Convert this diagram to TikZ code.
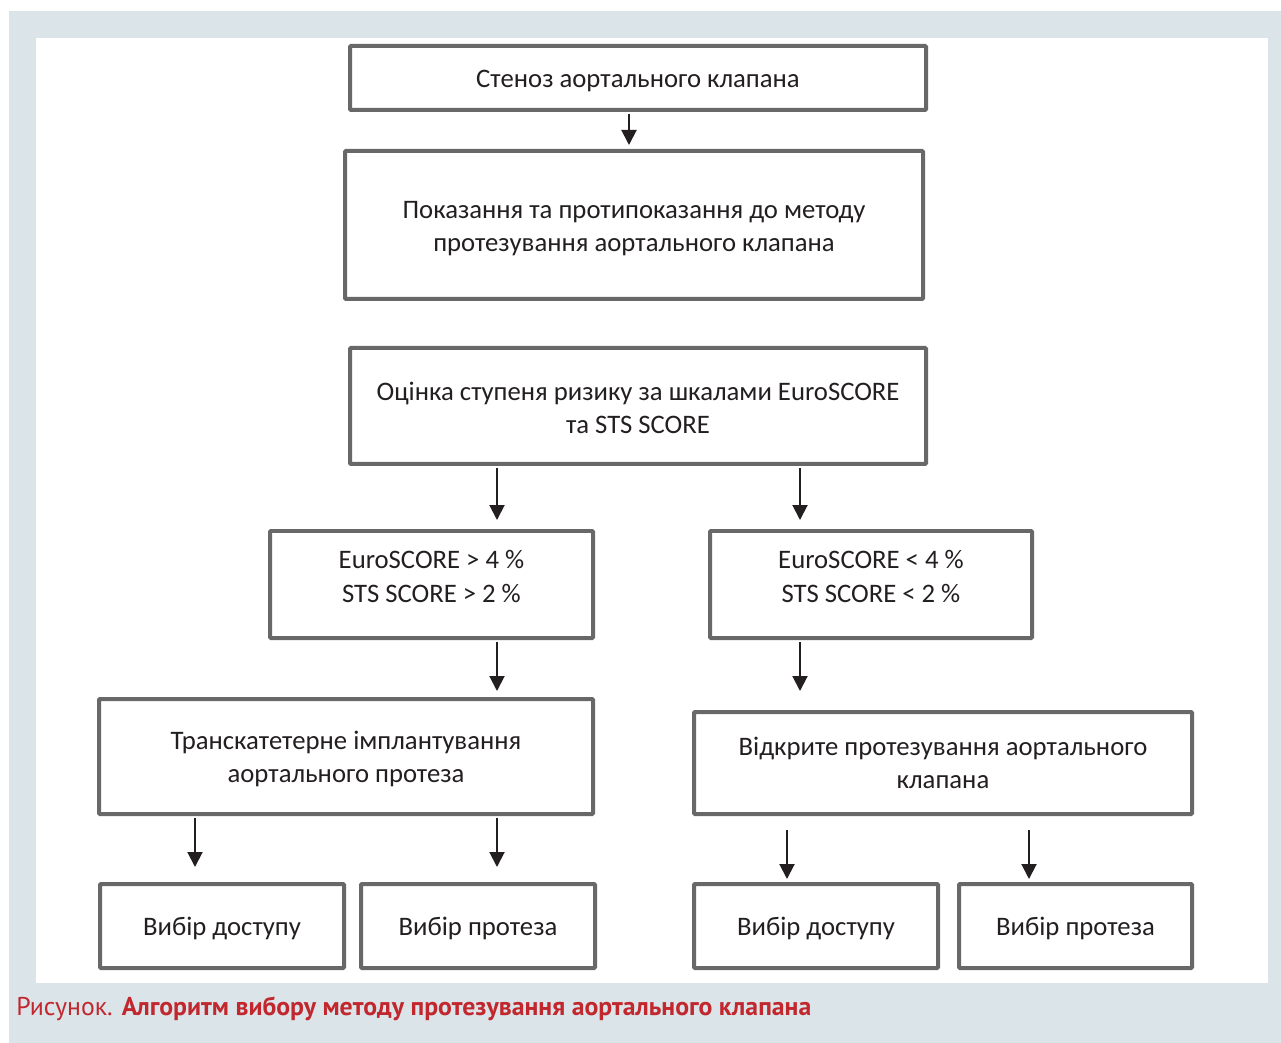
\documentclass[tikz,border=0pt]{standalone}
\usepackage{fontspec}
\setmainfont{Carlito}
\newfontfamily\capfont{PT Sans}
\usetikzlibrary{arrows.meta}
\definecolor{bandgray}{HTML}{DAE4E9}
\definecolor{framegray}{HTML}{686868}
\definecolor{inkblack}{HTML}{231F20}
\definecolor{capred}{HTML}{C1272D}
\tikzset{
  box/.style 2 args={draw=framegray, line width=0.08cm, rounded corners=0.6pt, fill=white,
    inner sep=0pt, minimum width=#1*0.02cm, minimum height=#2*0.02cm},
  boxtext/.style={text=inkblack, align=center, inner sep=0pt, font=\fontsize{15.2}{18.8}\selectfont},
  arr/.style={draw=inkblack, line width=0.04cm, shorten <=0.04cm,
    -{Triangle[width=0.3cm,length=0.3cm]}},
}
\begin{document}
\begin{tikzpicture}[x=0.02cm, y=-0.02cm]
% backdrop and panel
\useasboundingbox (0,0) rectangle (1281,1043);
\fill[bandgray] (9,11) rectangle (1281,1043);
\fill[white] (36,38) rectangle (1268,983);

% frames
\node[box={576}{64}] (stenosis) at (638,78) {};
\node[box={578}{148}] (indic) at (634,225) {};
\node[box={576}{116}] (assess) at (638,406) {};
\node[box={323}{107}] (hi) at (431.5,584.5) {};
\node[box={322}{107}] (lo) at (871,584.5) {};
\node[box={494}{115}] (tavi) at (346,756.5) {};
\node[box={498}{102}] (open) at (943,763) {};
\node[box={244}{84}] (acc1) at (222,926) {};
\node[box={234}{84}] (pro1) at (478,926) {};
\node[box={244}{84}] (acc2) at (816,926) {};
\node[box={233}{84}] (pro2) at (1075.5,926) {};

% texts
\node[boxtext] (stenosis-txt) at ([yshift=-0.06cm]stenosis.center) {Стеноз аортального клапана};
\node[boxtext] (indic-txt) at ([yshift=-0.07cm]indic.center) {Показання та протипоказання до методу\\протезування аортального клапана};
\node[boxtext] (assess-txt) at ([yshift=-0.04cm]assess.center) {Оцінка ступеня ризику за шкалами EuroSCORE\\та STS SCORE};
\node[boxtext] (hi-txt) at ([yshift=0.16cm]hi.center) {EuroSCORE > 4 \%\\STS SCORE > 2 \%};
\node[boxtext] (lo-txt) at ([yshift=0.16cm]lo.center) {EuroSCORE < 4 \%\\STS SCORE < 2 \%};
\node[boxtext] (tavi-txt) at ([yshift=-0.04cm]tavi.center) {Транскатетерне імплантування\\аортального протеза};
\node[boxtext] (open-txt) at (open.center) {Відкрите протезування аортального\\клапана};
\node[boxtext] (acc1-txt) at ([yshift=-0.04cm]acc1.center) {Вибір доступу};
\node[boxtext] (pro1-txt) at ([yshift=-0.04cm]pro1.center) {Вибір протеза};
\node[boxtext] (acc2-txt) at ([yshift=-0.04cm]acc2.center) {Вибір доступу};
\node[boxtext] (pro2-txt) at ([yshift=-0.04cm]pro2.center) {Вибір протеза};

% arrow columns
\coordinate (c1) at (629,0);
\coordinate (c2) at (497,0);
\coordinate (c3) at (800,0);
\coordinate (c4) at (195,0);
\coordinate (c5) at (787,0);
\coordinate (c6) at (1029,0);

\draw[arr, shorten >=0.08cm] (stenosis.south -| c1) -- (indic.north -| c1);
\draw[arr, shorten >=0.18cm] (assess.south -| c2) -- (hi.north -| c2);
\draw[arr, shorten >=0.18cm] (assess.south -| c3) -- (lo.north -| c3);
\draw[arr, shorten >=0.12cm] (hi.south -| c2) -- (tavi.north -| c2);
\draw[arr, shorten >=0.38cm] (lo.south -| c3) -- (open.north -| c3);
\draw[arr, shorten >=0.30cm] (tavi.south -| c4) -- (acc1.north -| c4);
\draw[arr, shorten >=0.30cm] (tavi.south -| c2) -- (pro1.north -| c2);
\draw[arr, shorten <=0.28cm, shorten >=0.06cm] (open.south -| c5) -- (acc2.north -| c5);
\draw[arr, shorten <=0.28cm, shorten >=0.06cm] (open.south -| c6) -- (pro2.north -| c6);

% caption
\node[anchor=base west, inner sep=0pt, text=capred, font=\capfont\fontsize{14.65}{16}\selectfont]
  (caption) at (16,1015) {Рисунок. \textbf{Алгоритм вибору методу протезування аортального клапана}};
\end{tikzpicture}
\end{document}
